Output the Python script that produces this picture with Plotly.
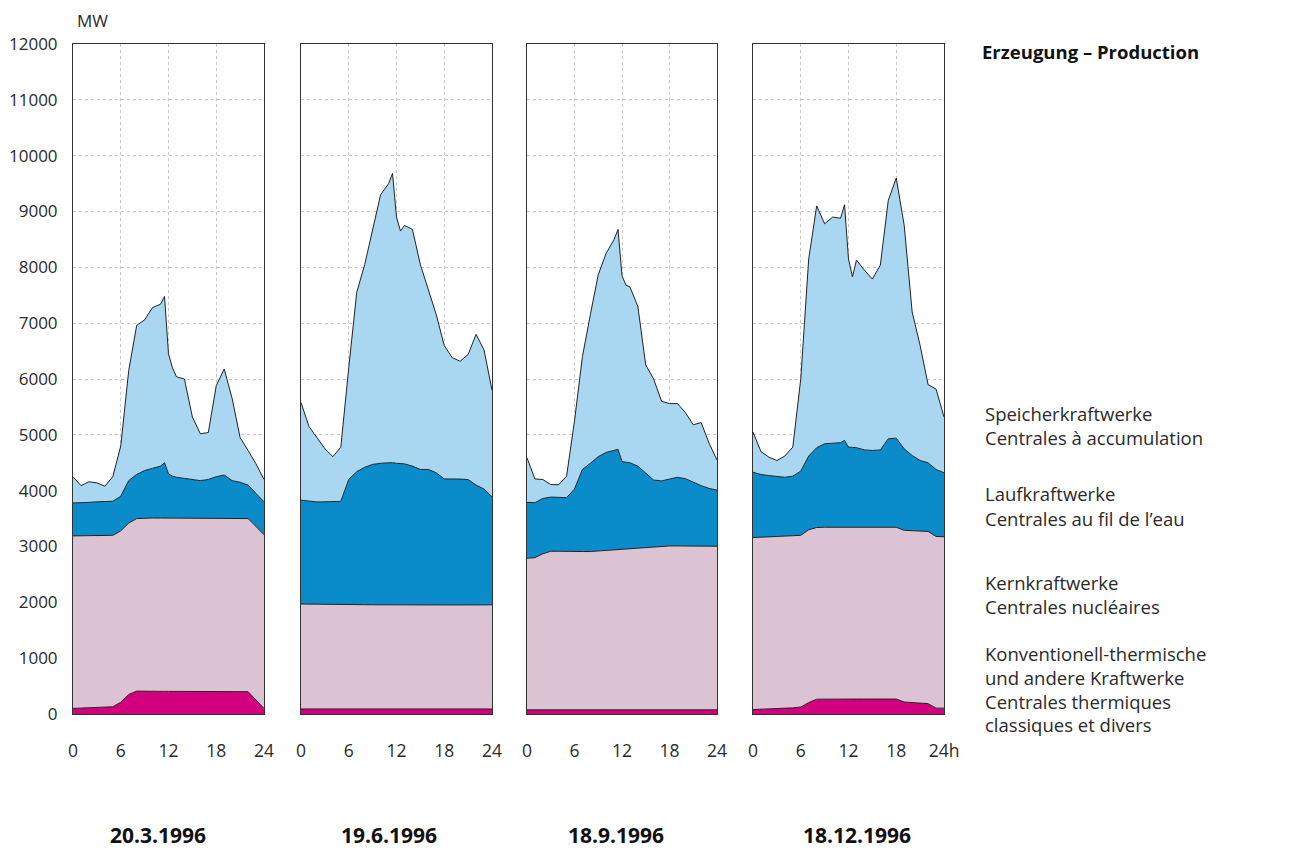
import plotly.graph_objects as go

hours = [0, 1, 2, 3, 4, 5, 6, 7, 8, 9, 10, 11, 11.5, 12, 12.5, 13, 14, 15, 16, 17, 18, 19, 20, 21, 22, 23, 24]

dates = ["20.3.1996", "19.6.1996", "18.9.1996", "18.12.1996"]

# 20.3.1996
mar_thermal = [100, 105, 110, 115, 120, 130, 210, 350, 410, 405, 405, 405, 405, 405, 405, 405, 400, 400, 400, 400, 400, 400, 400, 400, 400, 250, 100]
mar_nuclear = [3090, 3085, 3080, 3080, 3075, 3070, 3070, 3070, 3090, 3105, 3105, 3105, 3105, 3105, 3105, 3100, 3105, 3100, 3100, 3100, 3100, 3100, 3100, 3100, 3100, 3110, 3110]
mar_river = [590, 590, 600, 605, 605, 610, 620, 760, 790, 850, 890, 930, 990, 790, 750, 735, 715, 700, 680, 700, 750, 780, 680, 650, 600, 590, 590]
mar_storage = [470, 310, 370, 340, 280, 440, 900, 1970, 2670, 2700, 2880, 2900, 2980, 2150, 1940, 1800, 1780, 1120, 840, 840, 1630, 1900, 1470, 800, 620, 530, 400]

# 19.6.1996
jun_thermal = [90] * 27
jun_nuclear = [1880, 1880, 1878, 1876, 1875, 1873, 1872, 1870, 1868, 1866, 1865, 1863, 1862, 1860, 1860, 1860, 1860, 1860, 1860, 1860, 1860, 1862, 1863, 1864, 1865, 1865, 1865]
jun_river = [1860, 1840, 1830, 1835, 1840, 1845, 2240, 2380, 2460, 2515, 2535, 2545, 2550, 2540, 2540, 2530, 2490, 2430, 2430, 2370, 2260, 2260, 2255, 2245, 2145, 2075, 1935]
jun_storage = [1750, 1340, 1155, 950, 805, 970, 2000, 3210, 3630, 4180, 4810, 5000, 5180, 4410, 4160, 4270, 4240, 3670, 3220, 2830, 2390, 2170, 2110, 2240, 2700, 2490, 1910]

# 18.9.1996
sep_thermal = [75] * 27
sep_nuclear = [2715, 2725, 2795, 2840, 2840, 2835, 2835, 2835, 2835, 2845, 2855, 2865, 2870, 2875, 2880, 2885, 2900, 2910, 2920, 2930, 2935, 2935, 2933, 2931, 2930, 2930, 2930]
sep_river = [1000, 985, 990, 970, 965, 965, 1120, 1470, 1580, 1690, 1755, 1780, 1795, 1570, 1555, 1540, 1465, 1335, 1195, 1170, 1200, 1230, 1207, 1144, 1085, 1035, 1005]
sep_storage = [800, 425, 340, 225, 225, 385, 1220, 2020, 2660, 3260, 3565, 3780, 3940, 3330, 3170, 3150, 2860, 1930, 1810, 1425, 1350, 1320, 1185, 1030, 1130, 810, 540]

# 18.12.1996
dec_thermal = [80, 85, 90, 95, 100, 110, 125, 205, 265, 268, 268, 268, 268, 268, 268, 268, 268, 268, 268, 268, 268, 215, 200, 195, 185, 105, 105]
dec_nuclear = [3080, 3080, 3080, 3080, 3080, 3075, 3075, 3095, 3075, 3077, 3077, 3077, 3077, 3077, 3077, 3077, 3077, 3077, 3077, 3077, 3077, 3075, 3080, 3085, 3085, 3075, 3070]
dec_river = [1170, 1125, 1100, 1080, 1060, 1075, 1150, 1320, 1430, 1495, 1505, 1515, 1555, 1435, 1430, 1425, 1385, 1375, 1385, 1585, 1595, 1460, 1350, 1260, 1230, 1200, 1145]
dec_storage = [720, 410, 330, 285, 380, 520, 1650, 3530, 4330, 3940, 4050, 4020, 4220, 3370, 3055, 3360, 3220, 3070, 3310, 4270, 4660, 4000, 2570, 2060, 1400, 1440, 1000]

series_names = ["Thermisch", "Kern", "Lauf", "Speicher"]
colors = ["#d2007e", "#dcc3d4", "#0a8ccb", "#a9d7f1"]

panels = [
    [mar_thermal, mar_nuclear, mar_river, mar_storage],
    [jun_thermal, jun_nuclear, jun_river, jun_storage],
    [sep_thermal, sep_nuclear, sep_river, sep_storage],
    [dec_thermal, dec_nuclear, dec_river, dec_storage],
]

OFF = 8  # page body margin offset
W, H = 1308 - OFF, 850 - OFF
TOP, BOT = 44 - OFF, 714 - OFF
px_domains = [(73, 264), (301, 492), (527, 717), (753, 944)]
date_centers = [158, 389, 616, 857]

FONT = "Open Sans, Noto Sans, sans-serif"
TXT = "#2a2a2a"


def py(ypix):
    return (BOT - (ypix - OFF)) / (BOT - TOP)


def px(xpix):
    return (xpix - OFF) / W


fig = go.Figure()

for i, layers in enumerate(panels):
    xa = "x" if i == 0 else f"x{i+1}"
    ya = "y" if i == 0 else f"y{i+1}"
    for j, vals in enumerate(layers):
        fig.add_trace(go.Scatter(
            x=hours, y=vals, xaxis=xa, yaxis=ya,
            stackgroup=f"g{i}", mode="lines",
            line=dict(color="#222222", width=1),
            fillcolor=colors[j], name=series_names[j],
            showlegend=False, hoverinfo="skip",
        ))

layout = dict(
    width=W, height=H,
    margin=dict(l=0, r=0, t=TOP, b=H - BOT),
    paper_bgcolor="white", plot_bgcolor="white",
    font=dict(family=FONT, color=TXT, size=17),
    showlegend=False,
)

for i, (a, b) in enumerate(px_domains):
    n = "" if i == 0 else str(i + 1)
    ticktext = ["0", "6", "12", "18", "24h" if i == 3 else "24"]
    layout["xaxis" + n] = dict(
        domain=[px(a), px(b)], range=[0, 24], anchor="y" + n,
        tickvals=[0, 6, 12, 18, 24], ticktext=ticktext,
        showgrid=True, gridcolor="#c8c8c8", griddash="dot", gridwidth=1,
        showline=True, mirror=True, linecolor="#333333", linewidth=1,
        ticks="", ticklabelstandoff=21, zeroline=False, automargin=False,
        tickfont=dict(size=17.5, color=TXT, family=FONT),
    )
    layout["yaxis" + n] = dict(
        domain=[0, 1], range=[0, 12000], anchor="x" + n,
        tickvals=list(range(0, 12001, 1000)), tickformat="d",
        showticklabels=(i == 0),
        showgrid=True, gridcolor="#c8c8c8", griddash="dot", gridwidth=1,
        showline=True, mirror=True, linecolor="#333333", linewidth=1,
        zeroline=False, ticks="", ticklabelstandoff=11, automargin=False,
        tickfont=dict(size=17, color=TXT, family=FONT),
    )
    if i > 0:
        layout["yaxis" + n]["matches"] = "y"

fig.update_layout(**layout)

for i, c in enumerate(date_centers):
    fig.add_annotation(
        text=f"<b>{dates[i]}</b>", x=px(c), y=py(835),
        xref="paper", yref="paper", showarrow=False,
        font=dict(size=21, color="#111111", family=FONT),
        xanchor="center", yanchor="middle",
    )

fig.add_annotation(text="MW", x=px(76), y=py(OFF), xref="paper", yref="paper",
                   showarrow=False, xanchor="left", yanchor="top", borderpad=0,
                   font=dict(size=17, color=TXT, family=FONT))
fig.add_annotation(text="<b>Erzeugung – Production</b>", x=px(980), y=py(51),
                   xref="paper", yref="paper", showarrow=False,
                   xanchor="left", yanchor="middle",
                   font=dict(size=18.5, color="#111111", family=FONT))

legend_lines = [
    ("Speicherkraftwerke", 413), ("Centrales à accumulation", 437),
    ("Laufkraftwerke", 494), ("Centrales au fil de l’eau", 518),
    ("Kernkraftwerke", 582), ("Centrales nucléaires", 606),
    ("Konventionell-thermische", 653), ("und andere Kraftwerke", 677),
    ("Centrales thermiques", 701), ("classiques et divers", 725),
]
for t, yy in legend_lines:
    fig.add_annotation(text=t, x=px(983), y=py(yy), xref="paper", yref="paper",
                       showarrow=False, xanchor="left", yanchor="middle",
                       font=dict(size=18.5, color=TXT, family=FONT))

fig.write_html("out.html")
